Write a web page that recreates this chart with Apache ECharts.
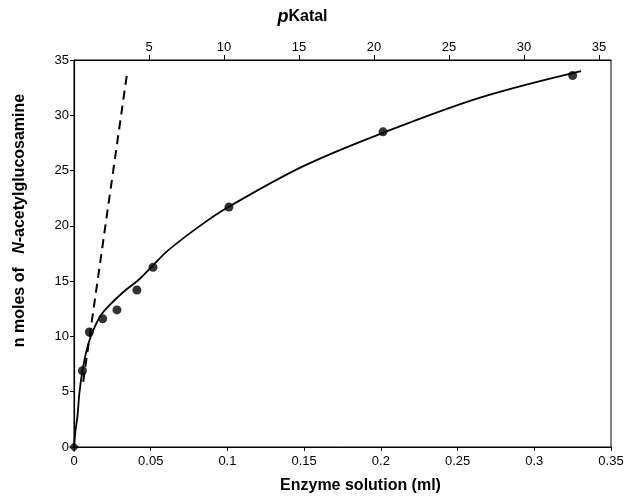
<!DOCTYPE html>
<html>
<head>
<meta charset="utf-8">
<script src="https://cdn.jsdelivr.net/npm/echarts@6/dist/echarts.min.js"></script>
<style>
  html, body { margin: 0; padding: 0; background: #fff; }
  #chart { width: 628px; height: 497px; }
</style>
</head>
<body>
<div id="chart"></div>
<script>
// measured points (ml, n moles)
const pointsX = [0, 0.0055, 0.010, 0.0187, 0.028, 0.041, 0.0515, 0.101, 0.2014, 0.325];
const pointsY = [0, 6.9, 10.4, 11.6, 12.4, 14.2, 16.25, 21.7, 28.5, 33.6];

// fitted curve
const curveX = [0, 0.001, 0.0022, 0.0035, 0.0054, 0.0083, 0.0115, 0.017, 0.023, 0.032, 0.042, 0.0506, 0.0615, 0.0821, 0.1006, 0.1495, 0.2012, 0.2647, 0.3305];
const curveY = [0, 1.5, 2.7, 4.85, 6.8, 8.8, 10.2, 11.8, 12.8, 14.0, 15.1, 16.3, 17.8, 20.0, 21.7, 25.4, 28.4, 31.6, 34.0];

// initial-rate dashed line
const dashX = [0.006, 0.0347];
const dashY = [5.9, 33.9];

const zip = (xs, ys) => xs.map((x, i) => [x, ys[i]]);

const chart = echarts.init(document.getElementById('chart'));
const font = 'Liberation Sans, Arial, sans-serif';

const option = {
  animation: false,
  grid: {
    left: 74,
    right: 17,
    top: 60,
    bottom: 50,
    outerBoundsMode: 'none',
    show: true,
    borderColor: '#000',
    borderWidth: 1,
  },
  xAxis: [
    {
      type: 'value',
      position: 'bottom',
      min: 0,
      max: 0.35,
      interval: 0.05,
      name: 'Enzyme solution (ml)',
      nameLocation: 'middle',
      nameGap: 31,
      nameTextStyle: {
        fontFamily: font,
        fontSize: 16,
        fontWeight: 'bold',
        color: '#000',
        padding: [0, 0, 0, 36],
      },
      axisLine: { show: true, lineStyle: { color: '#000', width: 1.2 } },
      axisTick: { show: true, length: 4, lineStyle: { color: '#000' } },
      axisLabel: { fontFamily: font, fontSize: 13, color: '#000', margin: 8 },
      splitLine: { show: false },
    },
    {
      type: 'value',
      position: 'top',
      min: 0,
      max: 35.8,
      interval: 5,
      name: '{i|p}{b|Katal}',
      nameLocation: 'middle',
      nameGap: 34,
      nameTextStyle: {
        padding: [0, 80, 0, 0],
        rich: {
          i: { fontFamily: font, fontSize: 18, fontWeight: 'bold', fontStyle: 'italic', color: '#000' },
          b: { fontFamily: font, fontSize: 16, fontWeight: 'bold', color: '#000' },
        },
      },
      axisLine: { show: true, lineStyle: { color: '#000', width: 1.2 } },
      axisTick: { show: true, length: 5, lineStyle: { color: '#000' } },
      axisLabel: {
        fontFamily: font,
        fontSize: 13,
        color: '#000',
        margin: 6,
        showMinLabel: false,
        showMaxLabel: false,
      },
      splitLine: { show: false },
    },
  ],
  yAxis: {
    type: 'value',
    min: 0,
    max: 35,
    interval: 5,
    name: '{r|n moles of   }{i|N}{r|-acetylglucosamine}',
    nameLocation: 'middle',
    nameGap: 46,
    nameTextStyle: {
      padding: [0, 0, 0, 66],
      rich: {
        r: { fontFamily: font, fontSize: 16, fontWeight: 'bold', color: '#000' },
        i: { fontFamily: font, fontSize: 16, fontWeight: 'bold', fontStyle: 'italic', color: '#000' },
      },
    },
    axisLine: { show: true, lineStyle: { color: '#000', width: 1.2 } },
    axisTick: { show: true, length: 4, lineStyle: { color: '#000' } },
    axisLabel: { fontFamily: font, fontSize: 13, color: '#000', margin: 5 },
    splitLine: { show: false },
  },
  series: [
    {
      name: 'fit',
      type: 'line',
      xAxisIndex: 0,
      smooth: 0.35,
      showSymbol: false,
      lineStyle: { color: '#000', width: 1.8 },
      data: zip(curveX, curveY),
    },
    {
      name: 'initial',
      type: 'line',
      xAxisIndex: 0,
      showSymbol: false,
      lineStyle: { color: '#000', width: 2, type: [9, 6] },
      data: zip(dashX, dashY),
    },
    {
      name: 'points',
      type: 'scatter',
      xAxisIndex: 0,
      symbolSize: 9,
      itemStyle: { color: '#000' },
      data: zip(pointsX, pointsY).map((p, i) =>
        i === 0 ? { value: p, symbol: 'diamond', symbolSize: 10 } : p
      ),
    },
  ],
};

chart.setOption(option);
</script>
</body>
</html>
